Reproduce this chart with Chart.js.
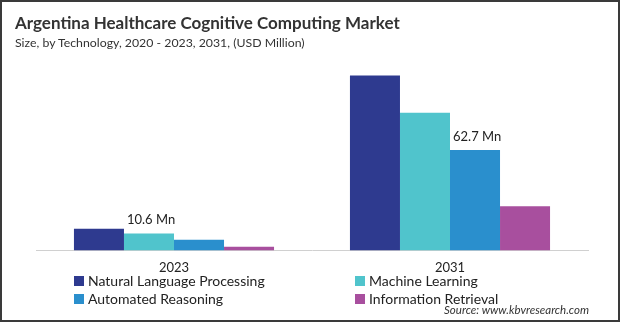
<!DOCTYPE html>
<html>
<head>
<meta charset="utf-8">
<script src="https://cdn.jsdelivr.net/npm/chart.js@4.4.0/dist/chart.umd.min.js"></script>
<style>
  html, body { margin: 0; padding: 0; background: #fff; }
  #frame { position: relative; width: 616px; height: 318px; border: 2px solid #3a3a3a; overflow: hidden; font-family: Lato, sans-serif; color: #222; }
  #title { position: absolute; left: 13px; top: 10px; font-size: 17px; font-weight: bold; color: #333; white-space: nowrap; }
  #subtitle { position: absolute; left: 13px; top: 33px; font-size: 12.3px; color: #333; white-space: nowrap; }
  #chartbox { position: absolute; left: -2px; top: -2px; width: 620px; height: 322px; }
  .leg { position: absolute; font-size: 14px; color: #222; white-space: nowrap; }
  .leg span { display: inline-block; width: 10px; height: 10px; margin-right: 4px; vertical-align: 0px; }
  #source { position: absolute; right: 29px; top: 301px; font-size: 11.5px; font-style: italic; color: #333; }
</style>
</head>
<body>
<div id="frame">
  <div id="chartbox"><canvas id="myChart"></canvas></div>
  <div id="title">Argentina Healthcare Cognitive Computing Market</div>
  <div id="subtitle">Size, by Technology, 2020 - 2023, 2031, (USD Million)</div>
  <div id="legend"></div>
  <div id="source">Source: www.kbvresearch.com</div>
</div>
<script>
// data
var years = ["2023", "2031"];
var seriesNames = ["Natural Language Processing", "Machine Learning", "Automated Reasoning", "Information Retrieval"];
var nlpValues = [13.5, 109.1];
var mlValues = [10.6, 85.9];
var arValues = [6.6, 62.7];
var irValues = [2.3, 27.6];
var colors = ["#2e3a8f", "#50c4cc", "#2a8fcd", "#a84f9e"];

// which bar gets the "Mn" label: [series index, year index]
var labelled = [[1, 0], [2, 1]];

// legend in two columns
var legPos = [[72, 270], [353, 270], [72, 288], [353, 288]];
var legend = document.getElementById("legend");
seriesNames.forEach(function(name, i) {
  var d = document.createElement("div");
  d.className = "leg";
  d.style.left = legPos[i][0] + "px";
  d.style.top = legPos[i][1] + "px";
  d.innerHTML = '<span style="background:' + colors[i] + '"></span>' + name;
  legend.appendChild(d);
});

var valueLabels = {
  id: "valueLabels",
  afterDatasetsDraw: function(chart) {
    var ctx = chart.ctx;
    ctx.save();
    ctx.font = "13px Lato";
    ctx.fillStyle = "#222";
    ctx.textAlign = "left";
    ctx.textBaseline = "alphabetic";
    labelled.forEach(function(p) {
      var bar = chart.getDatasetMeta(p[0]).data[p[1]];
      var v = chart.data.datasets[p[0]].data[p[1]];
      ctx.fillText(v.toFixed(1) + " Mn", bar.x - bar.width / 2 + 3, bar.y - 9);
    });
    ctx.restore();
  }
};

var ctx = document.getElementById("myChart").getContext("2d");
var chart = new Chart(ctx, {
  type: "bar",
  data: {
    labels: years,
    datasets: [
      { label: seriesNames[0], data: nlpValues, backgroundColor: colors[0] },
      { label: seriesNames[1], data: mlValues, backgroundColor: colors[1] },
      { label: seriesNames[2], data: arValues, backgroundColor: colors[2] },
      { label: seriesNames[3], data: irValues, backgroundColor: colors[3] }
    ]
  },
  options: {
    responsive: true,
    maintainAspectRatio: false,
    animation: false,
    layout: { padding: { left: 36, right: 32, top: 50, bottom: 44 } },
    plugins: { legend: { display: false }, tooltip: { enabled: false } },
    datasets: { bar: { barPercentage: 1, categoryPercentage: 0.725 } },
    scales: {
      x: {
        grid: { display: false },
        border: { display: true, color: "#d0d0d0", width: 1 },
        ticks: { padding: 2, color: "#222", font: { family: "Lato", size: 13 } }
      },
      y: { display: false, min: 0, max: 125 }
    }
  },
  plugins: [valueLabels]
});
</script>
</body>
</html>
